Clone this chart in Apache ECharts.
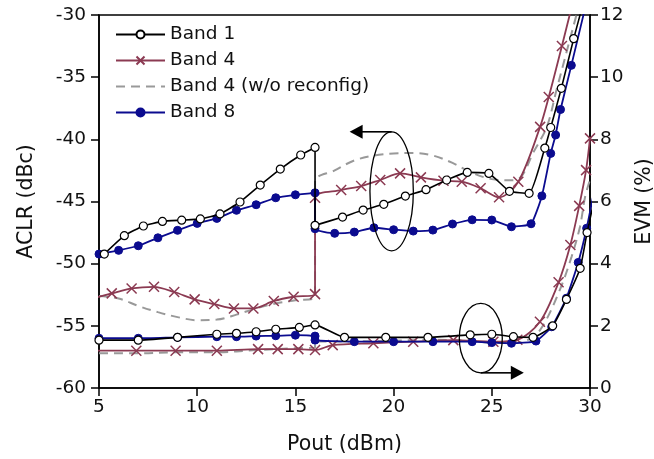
<!DOCTYPE html>
<html>
<head>
<meta charset="utf-8">
<script src="https://cdn.jsdelivr.net/npm/echarts@6/dist/echarts.min.js"></script>
<style>html,body{margin:0;padding:0;background:#fff;}#c{width:654px;height:459px;}</style>
</head>
<body>
<div id="c"></div>
<script>
// ---- data (Pout in dBm, ACLR in dBc, EVM in %) ----
const b1AclrX = [5.27, 6.29, 7.26, 8.23, 9.21, 10.16, 11.16, 12.18, 13.21, 14.23, 15.27, 16.0, 16.0, 17.4, 18.45, 19.5, 20.6, 21.65, 22.7, 23.75, 24.85, 25.9, 26.9, 27.7, 28.0, 28.54, 29.17, 29.8];
const b1AclrY = [-49.23, -47.75, -46.97, -46.6, -46.5, -46.4, -46.0, -45.04, -43.68, -42.39, -41.26, -40.65, -46.92, -46.25, -45.69, -45.23, -44.56, -44.05, -43.27, -42.66, -42.74, -44.18, -44.34, -40.7, -39.05, -35.9, -31.9, -28.2];
const b4AclrX = [4.65, 5.65, 6.66, 7.8, 8.83, 9.87, 10.87, 11.87, 12.86, 13.9, 14.91, 16.0, 16.0, 17.33, 18.35, 19.32, 20.33, 21.39, 22.54, 23.47, 24.43, 25.37, 26.35, 27.46, 27.9, 28.57, 29.5];
const b4AclrY = [-52.8, -52.39, -51.99, -51.86, -52.28, -52.87, -53.25, -53.6, -53.6, -53.0, -52.66, -52.45, -44.7, -44.08, -43.76, -43.27, -42.74, -43.06, -43.33, -43.41, -43.94, -44.66, -43.41, -39.0, -36.6, -32.5, -26.6];
const b4rAclrX = [5, 6, 7, 8, 9, 10, 11, 12, 13, 14, 15, 16, 16, 17, 18, 19, 20, 21, 22, 23, 24, 25, 26, 26.5, 27.1, 27.8, 28.3, 29.15, 29.8];
const b4rAclrY = [-52.6, -52.8, -53.4, -53.9, -54.3, -54.55, -54.5, -54.1, -53.6, -53.2, -52.95, -52.7, -43.4, -42.5, -41.7, -41.3, -41.13, -41.1, -41.3, -41.9, -42.7, -43.2, -43.3, -43.0, -41.1, -39.0, -36.0, -30.94, -27.1];
const b8AclrX = [5, 6, 7, 8, 9, 10, 11, 12, 13, 14, 15, 16, 16, 17, 18, 19, 20, 21, 22, 23, 24, 25, 26, 27, 27.55, 28.0, 28.25, 28.5, 29.05, 30.0];
const b8AclrY = [-49.23, -48.93, -48.56, -47.92, -47.32, -46.76, -46.36, -45.71, -45.26, -44.7, -44.46, -44.3, -47.19, -47.56, -47.46, -47.11, -47.27, -47.38, -47.3, -46.81, -46.47, -46.49, -47.03, -46.79, -44.55, -41.13, -39.65, -37.6, -34.05, -27.8];

const b1EvmX = [5, 7, 9, 11, 12, 13, 14, 15.2, 16, 17.5, 19.6, 21.75, 23.9, 25.0, 26.1, 27.1, 28.1, 28.8, 29.5, 29.85, 30.2];
const b1EvmY = [1.54, 1.54, 1.63, 1.73, 1.76, 1.81, 1.89, 1.95, 2.03, 1.63, 1.63, 1.63, 1.71, 1.73, 1.65, 1.63, 2.0, 2.85, 3.85, 5.0, 6.0];
const b4EvmX = [4.9, 6.9, 8.9, 11, 13.1, 14.1, 15.15, 16, 16.9, 18.97, 21.0, 23.04, 25.08, 26.3, 27.45, 28.4, 29.0, 29.45, 29.8, 30.0];
const b4EvmY = [1.2, 1.2, 1.2, 1.2, 1.25, 1.25, 1.25, 1.22, 1.38, 1.44, 1.49, 1.54, 1.49, 1.55, 2.13, 3.4, 4.6, 5.86, 7.01, 8.03];
const b4rEvmX = [5, 7, 9, 11, 13, 15, 16, 16, 18, 20, 22, 24, 25, 26, 27, 27.6, 28.46, 29.06, 29.49, 29.75, 30];
const b4rEvmY = [1.12, 1.12, 1.15, 1.15, 1.22, 1.28, 1.3, 1.5, 1.5, 1.52, 1.55, 1.52, 1.45, 1.45, 1.6, 2.0, 3.15, 4.22, 5.19, 6.15, 6.7];
const b8EvmX = [5, 7, 9, 11, 12, 13, 14, 15, 16, 16, 18, 20, 22, 24, 25, 26, 27.25, 28.05, 28.8, 29.4, 29.83, 30.2];
const b8EvmY = [1.6, 1.6, 1.63, 1.65, 1.65, 1.67, 1.68, 1.7, 1.67, 1.54, 1.49, 1.49, 1.49, 1.49, 1.46, 1.44, 1.51, 1.97, 2.89, 4.04, 5.14, 6.3];

const xTicks = [5, 10, 15, 20, 25, 30];
const aclrTicks = [-60, -55, -50, -45, -40, -35, -30];
const evmTicks = [0, 2, 4, 6, 8, 10, 12];
const names = ['Band 1', 'Band 4', 'Band 4 (w/o reconfig)', 'Band 8'];

// ---- styling ----
const FONT = '"DejaVu Sans", "Liberation Sans", Arial, sans-serif';
const C1 = '#000000', C4 = '#8B3A52', CR = '#999999', C8 = '#0B0B8F';
const XSYM = 'path://M0,0L10,10M10,0L0,10';

function pairs(xs, ys) { return xs.map((x, i) => [x, ys[i]]); }

function styleFor(name) {
  if (name === names[0]) return {
    symbol: 'circle', symbolSize: 8, z: 5,
    itemStyle: { color: '#fff', borderColor: C1, borderWidth: 1.2 },
    lineStyle: { color: C1, width: 1.6 }, smooth: 0.15
  };
  if (name === names[1]) return {
    symbol: XSYM, symbolSize: 10, z: 3,
    itemStyle: { color: C4, borderColor: C4, borderWidth: 1.5 },
    lineStyle: { color: C4, width: 1.8 }, smooth: 0.3
  };
  if (name === names[2]) return {
    symbol: 'none', showSymbol: false, z: 2,
    itemStyle: { color: CR },
    lineStyle: { color: CR, width: 2, type: [9, 6] }, smooth: 0.35
  };
  return {
    symbol: 'circle', symbolSize: 8, z: 4,
    itemStyle: { color: C8, borderColor: C8, borderWidth: 1 },
    lineStyle: { color: C8, width: 1.8 }, smooth: 0.15
  };
}

function mk(name, xs, ys, yAxisIndex) {
  return Object.assign({
    type: 'line', name: name, yAxisIndex: yAxisIndex,
    data: pairs(xs, ys), clip: true, animation: false
  }, styleFor(name));
}

const series = [
  mk(names[2], b4rAclrX, b4rAclrY, 0),
  mk(names[2], b4rEvmX, b4rEvmY, 1),
  mk(names[1], b4AclrX, b4AclrY, 0),
  mk(names[1], b4EvmX, b4EvmY, 1),
  mk(names[3], b8AclrX, b8AclrY, 0),
  mk(names[3], b8EvmX, b8EvmY, 1),
  mk(names[0], b1AclrX, b1AclrY, 0),
  mk(names[0], b1EvmX, b1EvmY, 1)
];

const axisCommon = {
  axisLine: { show: true, lineStyle: { color: '#000', width: 1.5 } },
  axisTick: { show: true, inside: false, length: 8, lineStyle: { color: '#000', width: 1.5 } },
  splitLine: { show: false },
  axisLabel: { color: '#111', fontFamily: FONT, fontSize: 18.5 },
  nameTextStyle: { color: '#111', fontFamily: FONT, fontSize: 20.5 }
};

const chart = echarts.init(document.getElementById('c'), null, { renderer: 'canvas' });
chart.setOption({
  animation: false,
  backgroundColor: '#fff',
  grid: { left: 99, right: 64, top: 15, bottom: 71, show: true, borderColor: '#000', borderWidth: 1.5, containLabel: false, outerBoundsMode: 'none' },
  legend: {
    data: [
      { name: names[0] },
      { name: names[1] },
      { name: names[2], itemStyle: { opacity: 0 } },
      { name: names[3] }
    ],
    orient: 'vertical', left: 110, top: 20,
    itemWidth: 49, itemHeight: 10, itemGap: 7,
    textStyle: { fontFamily: FONT, fontSize: 18.5, color: '#111' }
  },
  xAxis: Object.assign({}, axisCommon, {
    type: 'value', min: xTicks[0], max: xTicks[xTicks.length - 1], interval: 5,
    name: 'Pout (dBm)', nameLocation: 'middle', nameGap: 46,
    axisLabel: Object.assign({}, axisCommon.axisLabel, { margin: 10 })
  }),
  yAxis: [
    Object.assign({}, axisCommon, {
      type: 'value', min: aclrTicks[0], max: aclrTicks[aclrTicks.length - 1], interval: 5,
      name: 'ACLR (dBc)', nameLocation: 'middle', nameGap: 62, nameRotate: 90, position: 'left',
      axisLabel: Object.assign({}, axisCommon.axisLabel, { margin: 13 })
    }),
    Object.assign({}, axisCommon, {
      type: 'value', min: evmTicks[0], max: evmTicks[evmTicks.length - 1], interval: 2,
      name: 'EVM (%)', nameLocation: 'middle', nameGap: 38, nameRotate: 90, position: 'right',
      axisLabel: Object.assign({}, axisCommon.axisLabel, { margin: 10 })
    })
  ],
  series: series
});

// ---- annotations (ellipses + arrows) anchored via the axes ----
function annotate() {
  const p1 = chart.convertToPixel({ xAxisIndex: 0, yAxisIndex: 0 }, [19.9, -44.18]);
  const p2 = chart.convertToPixel({ xAxisIndex: 0, yAxisIndex: 0 }, [24.44, -55.99]);
  const r1x = 21.7, r1y = 59.5, r2x = 21.5, r2y = 34.7;
  const topY = p1[1] - r1y;
  const botY = p2[1] + r2y;
  chart.setOption({
    graphic: [
      { type: 'ellipse', shape: { cx: p1[0], cy: p1[1], rx: r1x, ry: r1y }, style: { fill: 'none', stroke: '#000', lineWidth: 1.3 }, z: 100 },
      { type: 'line', shape: { x1: p1[0], y1: topY, x2: p1[0] - 30, y2: topY }, style: { stroke: '#000', lineWidth: 1.6 }, z: 100 },
      { type: 'polygon', shape: { points: [[p1[0] - 42, topY], [p1[0] - 29, topY - 7], [p1[0] - 29, topY + 7]] }, style: { fill: '#000' }, z: 100 },
      { type: 'ellipse', shape: { cx: p2[0], cy: p2[1], rx: r2x, ry: r2y }, style: { fill: 'none', stroke: '#000', lineWidth: 1.3 }, z: 100 },
      { type: 'line', shape: { x1: p2[0], y1: botY, x2: p2[0] + 31, y2: botY }, style: { stroke: '#000', lineWidth: 1.6 }, z: 100 },
      { type: 'polygon', shape: { points: [[p2[0] + 43, botY], [p2[0] + 30, botY - 7], [p2[0] + 30, botY + 7]] }, style: { fill: '#000' }, z: 100 }
    ]
  });
}
annotate();
</script>
</body>
</html>
